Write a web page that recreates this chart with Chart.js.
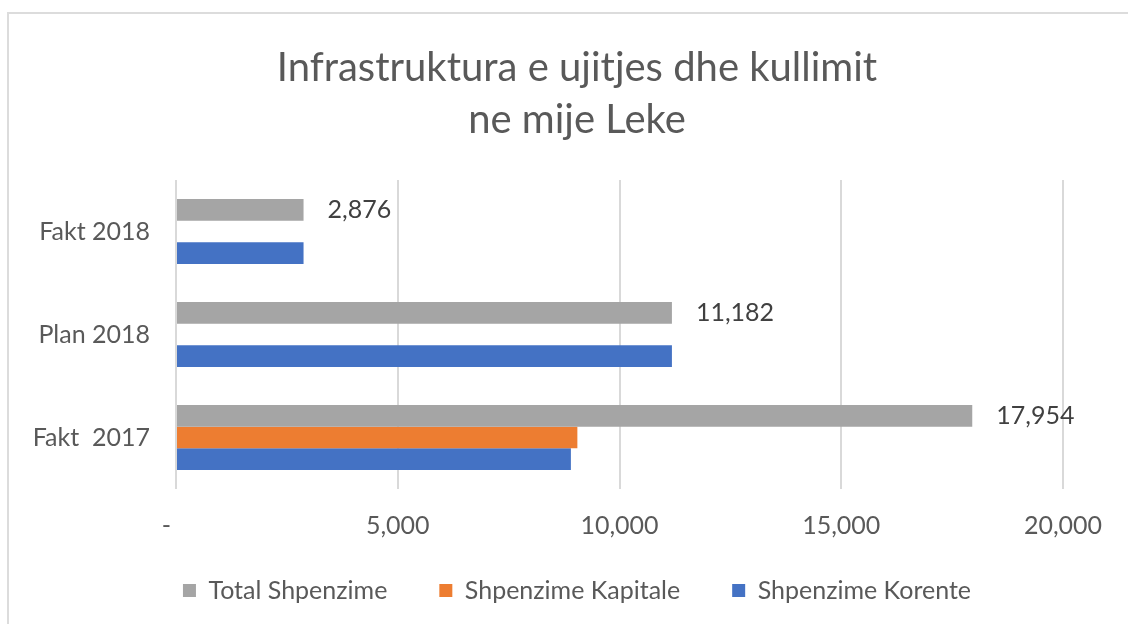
<!DOCTYPE html>
<html>
<head>
<meta charset="utf-8">
<script src="https://cdn.jsdelivr.net/npm/chart.js@4.4.0/dist/chart.umd.min.js"></script>
<style>
html,body{margin:0;padding:0;background:#fff;overflow:hidden;}
#frame{position:absolute;left:7px;top:12px;width:1200px;height:700px;border:2px solid #dcdcdc;box-sizing:border-box;}
#wrap{position:absolute;left:0;top:0;width:1128px;height:624px;}
</style>
</head>
<body>
<div id="frame"></div>
<div id="wrap"><canvas id="mainChart"></canvas></div>
<script>
// ================= DATA =================
const categories = ["Fakt 2018", "Plan 2018", "Fakt  2017"]
const totalShpenzime = [2876, 11182, 17954]
const shpenzimeKapitale = [null, null, 9050]
const shpenzimeKorente = [2876, 11182, 8904]
const xTicks = [0, 5000, 10000, 15000, 20000]

const FONT = "Lato, 'Open Sans', sans-serif"
const TXT = "#595959"

function fmt(v){
return v === 0 ? "-   " : v.toLocaleString("en-US")
}

// labels at the end of the grey bars
const totalLabels = {
id: "totalLabels",
afterDatasetsDraw(chart){
let ctx = chart.ctx
let meta = chart.getDatasetMeta(0)
ctx.save()
ctx.font = "25px " + FONT
ctx.fillStyle = "#404040"
ctx.textAlign = "left"
ctx.textBaseline = "middle"
meta.data.forEach((bar, i) => {
ctx.fillText(fmt(totalShpenzime[i]), bar.x + 24, bar.y)
})
ctx.restore()
}
}

let ctx = document.getElementById("mainChart")

new Chart(ctx, {
type: "bar",
data: {
labels: categories,
datasets: [
{ label: "Total Shpenzime", data: totalShpenzime, backgroundColor: "#a5a5a5" },
{ label: "Shpenzime Kapitale", data: shpenzimeKapitale, backgroundColor: "#ed7d31" },
{ label: "Shpenzime Korente", data: shpenzimeKorente, backgroundColor: "#4472c4" }
]
},
options: {
indexAxis: "y",
responsive: true,
maintainAspectRatio: false,
animation: false,
barPercentage: 1,
categoryPercentage: 0.63,
layout: { padding: { left: 26, right: 0, top: 0, bottom: 11 } },
plugins: {
title: {
display: true,
text: ["Infrastruktura e ujitjes dhe kullimit", "ne mije Leke"],
color: TXT,
font: { family: FONT, size: 40, weight: "normal", lineHeight: 1.3 },
padding: { top: 42, bottom: 34 }
},
legend: {
position: "bottom",
labels: {
color: TXT,
font: { family: FONT, size: 25 },
boxWidth: 13,
boxHeight: 13,
padding: 20,
// extra gap between the legend items
generateLabels(chart){
let items = Chart.defaults.plugins.legend.labels.generateLabels(chart)
items.forEach((it, i) => { if(i < items.length - 1) it.text = it.text + "     " })
return items
}
}
},
tooltip: { enabled: false }
},
scales: {
x: {
min: 0,
max: 20000,
afterBuildTicks(scale){
scale.ticks = xTicks.map(v => ({ value: v }))
},
afterFit(scale){ scale.height = 69 },
ticks: {
color: TXT,
font: { family: FONT, size: 25 },
padding: 22,
maxRotation: 0,
callback: v => fmt(v)
},
grid: { color: "#d9d9d9", lineWidth: 2, drawTicks: false },
border: { display: false }
},
y: {
afterFit(scale){ scale.width = 150 },
ticks: {
color: TXT,
font: { family: FONT, size: 25 },
padding: 26
},
grid: { display: false, drawTicks: false },
border: { display: false }
},
// empty right-hand space, keeps the plot ending at 20,000 like the original
yR: {
type: "category",
position: "right",
afterFit(scale){ scale.width = 65 },
ticks: { display: false },
grid: { display: false },
border: { display: false }
}
}
},
plugins: [totalLabels]
})
</script>
</body>
</html>
